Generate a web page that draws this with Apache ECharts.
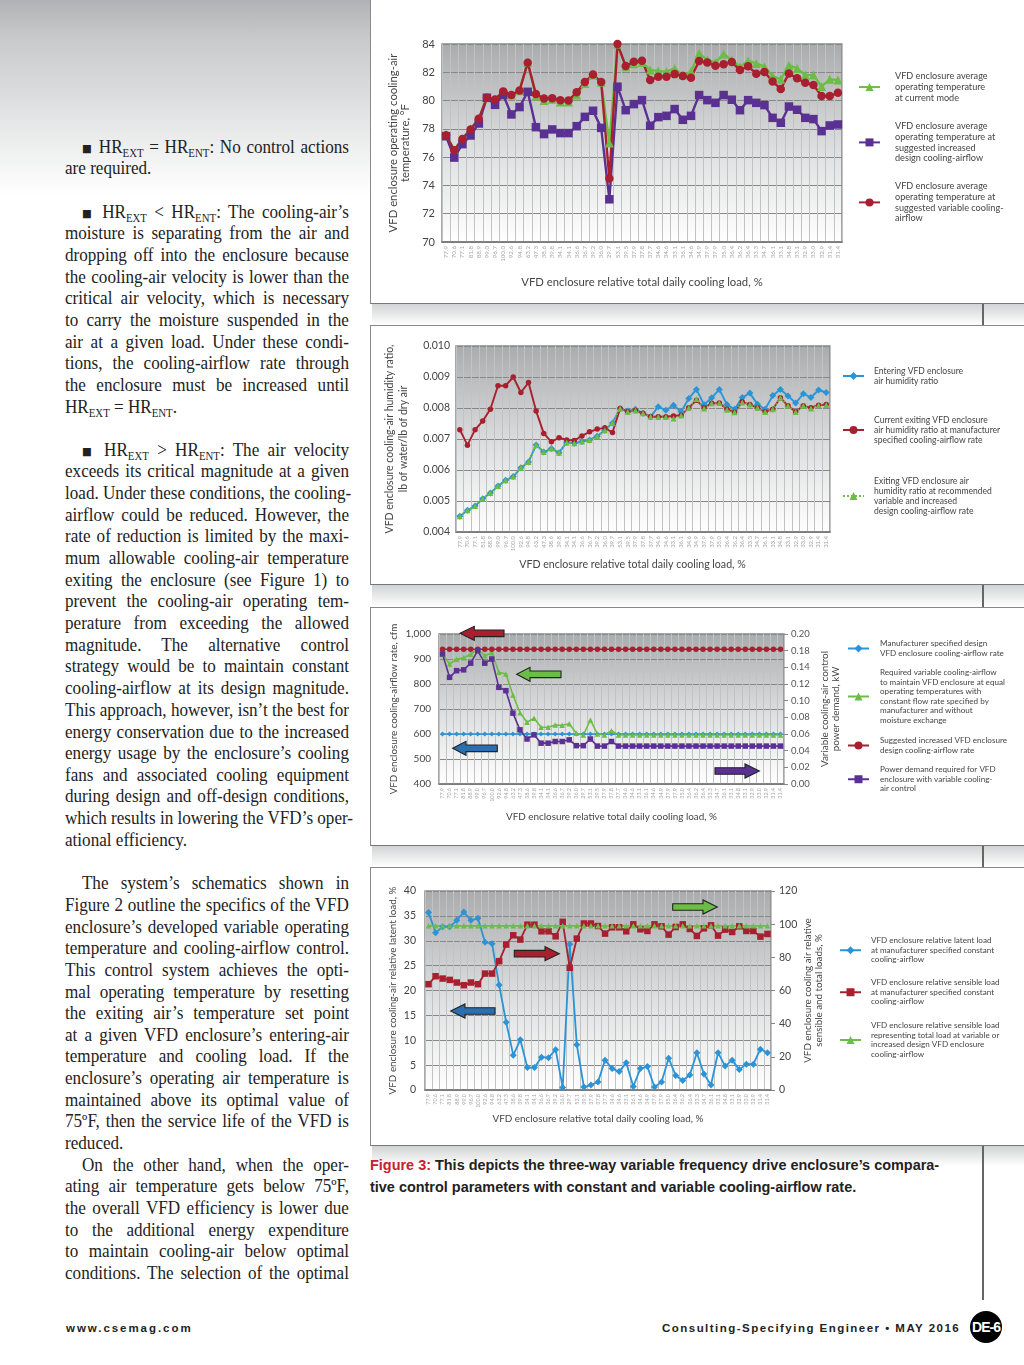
<!DOCTYPE html>
<html><head><meta charset="utf-8">
<script src="https://cdn.jsdelivr.net/npm/echarts@6/dist/echarts.min.js"></script>
<style>
html,body{margin:0;padding:0;background:#fff;}
#page{position:relative;width:1024px;height:1365px;overflow:hidden;background:#fff;}
#shade{position:absolute;left:0;top:0;width:370px;height:195px;background:linear-gradient(#b0b2b5,#c8cacb 20%,#ffffff 100%);}
.panel{position:absolute;left:370px;width:654px;background:#fff;border-left:1.5px solid #8a8a8a;border-bottom:1.5px solid #777;box-sizing:border-box;}
.panel.t{border-top:1.5px solid #888;}
.band{position:absolute;left:372px;width:652px;background:linear-gradient(#d2d3d4,#ffffff);}
.stub{position:absolute;left:982px;width:1.5px;background:#666;}
.ln{position:absolute;left:65px;width:302.1px;font-family:"Liberation Serif",serif;font-size:18.2px;line-height:22px;height:22px;color:#222;white-space:nowrap;transform:scaleX(.94);transform-origin:0 50%;}
.j{text-align:justify;text-align-last:justify;}
.i{padding-left:18px;width:284.1px;}
.ln sub{font-size:11.5px;line-height:0;vertical-align:-4px;}
.ln b{font-family:"DejaVu Sans",sans-serif;font-weight:normal;font-size:11px;position:relative;top:-1px;}
.cap{position:absolute;left:370px;font-family:"Liberation Sans",sans-serif;font-weight:bold;font-size:14.45px;line-height:20px;color:#222;white-space:nowrap;}
.cap span{color:#c9202f;}
.foot{position:absolute;top:1320px;font-family:"Liberation Sans",sans-serif;font-weight:bold;font-size:11.5px;line-height:16px;color:#222;white-space:nowrap;}
#badge{position:absolute;left:970px;top:1311px;width:32px;height:32px;border-radius:16px;background:#000;color:#fff;font-family:"Liberation Sans",sans-serif;font-weight:bold;font-size:14px;line-height:32px;text-align:center;letter-spacing:-1px;}
#chart{position:absolute;left:0;top:0;width:1024px;height:1365px;}
</style></head>
<body><div id="page">
<div id="shade"></div>
<div class="panel" style="top:0;height:304px"></div>
<div class="band" style="top:304px;height:21px"></div>
<div class="panel t" style="top:325px;height:260px"></div>
<div class="band" style="top:585px;height:22px"></div>
<div class="panel t" style="top:607px;height:239px"></div>
<div class="band" style="top:846px;height:21px"></div>
<div class="panel t" style="top:867px;height:279px"></div>
<div class="band" style="top:1146px;height:20px;width:652px"></div>
<div class="stub" style="top:304px;height:21px"></div>
<div class="stub" style="top:585px;height:22px"></div>
<div class="stub" style="top:846px;height:21px"></div>
<div class="stub" style="top:1146px;height:154px"></div>
<div id="text"></div>
<div class="cap" style="top:1155px"><span>Figure 3:</span> This depicts the three-way variable frequency drive enclosure’s compara-</div>
<div class="cap" style="top:1177px">tive control parameters with constant and variable cooling-airflow rate.</div>
<div class="foot" style="left:66px;letter-spacing:1.95px">www.csemag.com</div>
<div class="foot" style="left:662px;letter-spacing:1.47px">Consulting-Specifying Engineer • MAY 2016</div>
<div id="badge">DE-6</div>
<div id="chart"></div>
</div>
<script>
// ---------- data ----------
const loadTicks = ['77.9','70.6','77.1','81.8','88.9','99.0','96.7','100.0','92.6','94.8','63.2','47.3','38.6','39.8','34.1','34.1','36.6','36.7','39.2','36.0','29.7','53.1','39.5','37.9','37.8','37.7','34.6','34.6','33.1','36.1','34.6','34.9','37.9','37.9','35.0','36.4','36.2','36.4','33.3','34.7','36.1','33.1','34.8','33.1','32.9','33.0','32.9','31.4','31.4'];
const loadTicks2 = ['77.9','70.6','77.1','81.8','88.9','99.0','96.7','100.0','92.6','94.8','63.2','47.3','38.6','39.8','34.1','34.1','36.6','36.7','39.2','36.0','39.7','53.1','39.5','37.9','37.8','37.7','34.6','34.6','33.1','36.1','34.6','34.9','37.9','37.9','35.0','36.4','36.2','36.4','33.3','34.7','36.1','33.1','34.8','33.1','32.9','33.0','32.9','31.4','31.4'];

// Chart 1: operating temperature, F
const tempCurrent = [77.6,76.5,77.3,78.0,78.7,80.2,80.1,80.6,80.4,80.7,82.7,80.3,80.0,80.1,79.9,79.9,80.4,81.2,81.8,81.3,77.0,84.0,82.4,82.6,82.7,82.16,82.1,82.05,82.27,81.8,82.05,83.34,82.87,82.7,83.3,82.87,82.4,82.8,82.63,82.4,81.73,81.5,82.5,82.27,81.8,81.8,81.0,81.5,81.45];
const tempIncreased = [77.48,75.97,76.92,77.53,78.38,80.2,79.7,80.39,79.02,79.54,80.62,78.12,77.63,77.96,77.7,77.7,78.19,78.85,79.28,78.07,73.02,80.98,79.32,79.75,80.03,78.22,78.83,78.92,79.4,78.64,78.92,80.39,80.03,79.84,80.39,80.06,79.32,80.03,79.84,79.68,78.78,78.43,79.58,79.35,78.78,78.69,77.84,78.24,78.31];
const tempVariable = [77.55,76.49,77.29,77.96,78.71,80.2,80.08,80.65,80.39,80.72,82.68,80.46,80.15,80.17,80.03,80.01,80.58,81.31,81.85,81.31,74.49,84.0,82.44,82.75,82.82,81.45,81.69,81.69,81.87,81.73,81.61,82.8,82.7,82.46,82.56,82.72,82.16,82.42,81.9,82.02,81.35,80.81,81.92,81.57,81.26,81.1,80.32,80.32,80.55];

// Chart 2: humidity ratio
const humidEntering = [.00451,.00470,.00484,.00507,.00526,.00548,.00567,.00579,.00607,.00626,.00681,.00658,.00669,.00656,.00689,.00686,.00692,.00697,.00709,.00728,.00752,.00798,.00790,.00796,.00783,.00772,.00804,.00793,.00809,.00788,.00831,.00860,.00811,.00833,.00860,.00811,.00796,.00834,.00848,.00812,.00796,.00840,.00860,.00839,.00816,.00846,.00834,.00858,.00850];
const humidCurrent = [.00730,.00680,.00730,.00758,.00796,.00872,.00872,.00900,.00850,.00882,.00790,.00718,.00691,.00704,.00697,.00695,.00710,.00723,.00732,.00736,.00721,.00798,.00788,.00792,.00783,.00772,.00772,.00772,.00774,.00777,.00801,.00825,.00801,.00815,.00816,.00796,.00786,.00820,.00811,.00801,.00788,.00796,.00833,.00807,.00788,.00807,.00801,.00809,.00811];
const humidRecommended = [.00451,.00470,.00484,.00507,.00526,.00548,.00567,.00579,.00607,.00626,.00681,.00658,.00669,.00656,.00689,.00686,.00692,.00697,.00709,.00728,.00752,.00798,.00788,.00792,.00783,.00772,.00771,.00771,.00766,.00776,.00801,.00829,.00798,.00815,.00816,.00794,.00786,.00818,.00811,.00801,.00787,.00796,.00833,.00807,.00787,.00807,.00798,.00809,.00810];

// Chart 3: airflow (cfm) and control power (right-axis tick units)
const airflowDesign = [600,600,600,600,600,600,600,600,600,600,600,600,600,600,600,600,600,600,600,600,600,600,600,600,600,600,600,600,600,600,600,600,600,600,600,600,600,600,600,600,600,600,600,600,600,600,600,600,600];
const airflowRequired = [920,880,899,905,919,940,913,925,847,840,756,685,647,663,627,627,636,635,641,603,596,656,600,596,613,596,596,596,596,596,596,596,596,596,596,596,596,596,596,596,596,596,596,596,596,596,596,596,596];
const airflowIncreased = [939,939,939,939,939,939,939,939,939,939,939,939,939,939,939,939,939,939,939,939,939,939,939,939,939,939,939,939,939,939,939,939,939,939,939,939,939,939,939,939,939,939,939,939,939,939,939,939,939];
const powerDemand = [.156,.128,.136,.137,.145,.160,.145,.150,.116,.112,.085,.065,.054,.059,.049,.049,.051,.051,.053,.046,.046,.054,.0455,.0455,.051,.0455,.0455,.0455,.0455,.0455,.0455,.0455,.0455,.0455,.0455,.0455,.0455,.0455,.0455,.0455,.0455,.0455,.0455,.0455,.0455,.0455,.0455,.0455,.0455];
const powerTickLabels = ['0.00','0.02','0.04','0.06','0.08','0.10','0.12','0.14','0.18','0.20'];

// Chart 4: relative loads, %
const latentLoad = [35.7,31.6,32.8,32.8,34.1,35.8,34.1,34.5,29.7,29.4,21.1,13.6,7.0,10.1,4.5,4.5,6.6,6.5,8.1,0.5,29.3,9.1,0.6,1.0,1.6,6.0,4.3,3.7,5.5,0.7,4.3,4.7,0.6,1.6,6.4,2.9,1.9,3.0,7.5,3.2,1.0,7.5,4.8,6.0,4.1,5.2,5.2,8.2,7.5];
const sensibleConstant = [63.8,68.6,67.2,66.4,64.8,63.2,64.8,63.8,70.2,70.2,77.7,87.7,93.3,90.7,99.7,99.7,95.7,95.7,92.7,101.4,73.7,91.3,100.4,100.4,98.9,94.3,98.1,98.1,95.7,99.9,96.9,95.9,99.9,98.7,93.7,98.3,99.9,97.1,92.9,97.5,99.3,93.1,96.7,95.3,98.7,95.9,95.9,92.5,94.1];
const sensibleTotal = [99,99,99,99,99,99,99,99,99,99,99,99,99,99,99,99,99,99,99,99,99,99,99,99,99,99,99,99,99,99,99,99,99,99,99,99,99,99,99,99,99,99,99,99,99,99,99,99,99];

// Body text of the page column: [centre y, markup, class]
const bodyLines = [
[147,'<b>■</b> HR<sub>EXT</sub> = HR<sub>ENT</sub>: No control actions','j i'],[168,'are required.',''],
[212,'<b>■</b> HR<sub>EXT</sub> &lt; HR<sub>ENT</sub>: The cooling-air’s','j i'],[233,'moisture is separating from the air and','j'],[255,'dropping off into the enclosure because','j'],[277,'the cooling-air velocity is lower than the','j'],[298,'critical air velocity, which is necessary','j'],[320,'to carry the moisture suspended in the','j'],[342,'air at a given load. Under these condi-','j'],[363,'tions, the cooling-airflow rate through','j'],[385,'the enclosure must be increased until','j'],[407,'HR<sub>EXT</sub> = HR<sub>ENT</sub>.',''],
[450,'<b>■</b> HR<sub>EXT</sub> &gt; HR<sub>ENT</sub>: The air velocity','j i'],[471,'exceeds its critical magnitude at a given','j'],[493,'load. Under these conditions, the cooling-','j'],[515,'airflow could be reduced. However, the','j'],[536,'rate of reduction is limited by the maxi-','j'],[558,'mum allowable cooling-air temperature','j'],[580,'exiting the enclosure (see Figure 1) to','j'],[601,'prevent the cooling-air operating tem-','j'],[623,'perature from exceeding the allowed','j'],[645,'magnitude. The alternative control','j'],[666,'strategy would be to maintain constant','j'],[688,'cooling-airflow at its design magnitude.','j'],[710,'This approach, however, isn’t the best for','j'],[732,'energy conservation due to the increased','j'],[753,'energy usage by the enclosure’s cooling','j'],[775,'fans and associated cooling equipment','j'],[796,'during design and off-design conditions,','j'],[818,'which results in lowering the VFD’s oper-','j'],[840,'ational efficiency.',''],
[883,'The system’s schematics shown in','j i'],[905,'Figure 2 outline the specifics of the VFD','j'],[927,'enclosure’s developed variable operating','j'],[948,'temperature and cooling-airflow control.','j'],[970,'This control system achieves the opti-','j'],[992,'mal operating temperature by resetting','j'],[1013,'the exiting air’s temperature set point','j'],[1035,'at a given VFD enclosure’s entering-air','j'],[1056,'temperature and cooling load. If the','j'],[1078,'enclosure’s operating air temperature is','j'],[1100,'maintained above its optimal value of','j'],[1121,'75ºF, then the service life of the VFD is','j'],[1143,'reduced.',''],
[1165,'On the other hand, when the oper-','j i'],[1186,'ating air temperature gets below 75ºF,','j'],[1208,'the overall VFD efficiency is lower due','j'],[1230,'to the additional energy expenditure','j'],[1251,'to maintain cooling-air below optimal','j'],[1273,'conditions. The selection of the optimal','j']
];
document.getElementById('text').innerHTML = bodyLines.map(l=>`<div class="ln ${l[2]}" style="top:${l[0]-11}px">${l[1]}</div>`).join('');

// ---------- helpers ----------
const FONT='Lato';
const BLUE='#2b94d6',RED='#a8202f',GREEN='#6cbd45',PURPLE='#5a3192';
const bg=new echarts.graphic.LinearGradient(0,0,0,1,[{offset:0,color:'#a9abad'},{offset:.55,color:'#dfe0e1'},{offset:1,color:'#ffffff'}]);
function gridOf(l,t,w,h){return {left:l,top:t,width:w,height:h,show:true,backgroundColor:bg,borderColor:'#8a8a8a',borderWidth:1.5};}
function xAxisOf(i,ticks,name,gap,fs,nfs,pad){return {type:'category',gridIndex:i,data:ticks,name:name,nameLocation:'middle',nameGap:gap,
  nameTextStyle:{fontFamily:FONT,fontSize:nfs,color:'#444',padding:[0,pad||0,0,0]},
  axisLine:{lineStyle:{color:'#777',width:1.5}},axisTick:{show:false},
  splitLine:{show:true,interval:0,lineStyle:{color:'#c2c2c2',width:1}},
  axisLabel:{interval:0,rotate:90,fontSize:fs,fontFamily:FONT,color:'#a6a6a6',margin:4}};}
function yAxisOf(i,nfs,lh,o){return Object.assign({type:'value',gridIndex:i,nameLocation:'middle',nameRotate:90,
  nameTextStyle:{fontFamily:FONT,fontSize:nfs,color:'#444',lineHeight:lh},
  axisLine:{show:false},axisTick:{show:false},
  splitLine:{show:true,lineStyle:{color:'#888',width:1}},
  axisLabel:{fontFamily:FONT,fontSize:11,color:'#444',margin:7}},o);}
function lineOf(name,data,xi,yi,color,sym,size,w,dash){return {type:'line',name:name,data:data,xAxisIndex:xi,yAxisIndex:yi,
  symbol:sym,symbolSize:size,showSymbol:true,showAllSymbol:true,animation:false,
  lineStyle:{color:color,width:w,type:dash||'solid'},itemStyle:{color:color}};}
function legendOf(name,left,top,fs,lh,ih,gap){return {data:[name],left:left,top:top,padding:0,orient:'vertical',selectedMode:false,
  itemWidth:21,itemHeight:ih,itemGap:0,align:'left',textStyle:{fontFamily:FONT,fontSize:fs,lineHeight:lh,color:'#444',padding:[0,0,0,gap]}};}
function arrow(tipX,y,baseX,tailX,color){const hb=3.3,hh=7;
  return {type:'polygon',z:50,shape:{points:[[tipX,y],[baseX,y-hh],[baseX,y-hb],[tailX,y-hb],[tailX,y+hb],[baseX,y+hb],[baseX,y+hh]]},
    style:{fill:color,stroke:'#222',lineWidth:1.1}};}

// ---------- legend names ----------
const L1=['VFD enclosure average\noperating temperature\nat current mode','VFD enclosure average\noperating temperature at\nsuggested increased\ndesign cooling-airflow','VFD enclosure average\noperating temperature at\nsuggested variable cooling-\nairflow'];
const L2=['Entering VFD enclosure\nair humidity ratio','Current exiting VFD enclosure\nair humidity ratio at manufacturer\nspecified cooling-airflow rate','Exiting VFD enclosure air\nhumidity ratio at recommended\nvariable and increased\ndesign cooling-airflow rate'];
const L3=['Manufacturer specified design\nVFD enclosure cooling-airflow rate','Required variable cooling-airflow\nto maintain VFD enclosure at equal\noperating temperatures with\nconstant flow rate specified by\nmanufacturer and without\nmoisture exchange','Suggested increased VFD enclosure\ndesign cooling-airflow rate','Power demand required for VFD\nenclosure with variable cooling-\nair control'];
const L4=['VFD enclosure relative latent load\nat manufacturer specified constant\ncooling-airflow','VFD enclosure relative sensible load\nat manufacturer specified constant\ncooling-airflow','VFD enclosure relative sensible load\nrepresenting total load at variable or\nincreased design VFD enclosure\ncooling-airflow'];

const XN='VFD enclosure relative total daily cooling load, %';
const option={
  animation:false,
  backgroundColor:'transparent',
  grid:[gridOf(442,44,400,198),gridOf(456,346,374,186),gridOf(439,634,345,150),gridOf(425,891,346,199)],
  xAxis:[xAxisOf(0,loadTicks,XN,35,6.2,11.3),xAxisOf(1,loadTicks2,XN,27,6,10.6,21),xAxisOf(2,loadTicks,XN,28,5.4,9.9),xAxisOf(3,loadTicks,XN,24,5.4,9.9)],
  yAxis:[
    yAxisOf(0,11.3,12,{min:70,max:84,interval:2,name:'VFD enclosure operating cooling-air\ntemperature, °F',nameGap:31}),
    yAxisOf(1,10.5,14,{min:.004,max:.010,interval:.001,name:'VFD enclosure cooling-air humidity ratio,\nlb of water/lb of dry air',nameGap:45,axisLabel:{fontFamily:FONT,fontSize:10.5,color:'#444',margin:6,formatter:v=>v.toFixed(3)}}),
    yAxisOf(2,9.8,11,{min:400,max:1000,interval:100,name:'VFD enclosure cooling-airflow rate, cfm',nameGap:40,axisLabel:{fontFamily:FONT,fontSize:10,color:'#444',margin:8,formatter:v=>v>=1000?'1,000':String(v)}}),
    yAxisOf(2,9.9,10.5,{position:'right',min:0,max:.18,interval:.02,name:'Variable cooling-air control\npower demand, kW',nameGap:36,splitLine:{show:false},axisTick:{show:true,length:4,lineStyle:{color:'#888'}},
      axisLabel:{fontFamily:FONT,fontSize:9.5,color:'#555',margin:7,formatter:v=>powerTickLabels[Math.round(v/.02)]}}),
    yAxisOf(3,9.9,11,{min:0,max:40,interval:5,name:'VFD enclosure cooling-air relative latent load, %',nameGap:27,axisLabel:{fontFamily:FONT,fontSize:10.5,color:'#444',margin:9}}),
    yAxisOf(3,9.8,10.5,{position:'right',min:0,max:120,interval:20,name:'VFD enclosure cooling air relative\nsensible and total loads, %',nameGap:32,splitLine:{show:false},axisTick:{show:true,length:4,lineStyle:{color:'#888'}},
      axisLabel:{fontFamily:FONT,fontSize:10.5,color:'#444',margin:8}})
  ],
  legend:[
    legendOf(L1[0],858,71,9.15,10.7,10,10),legendOf(L1[1],858,121,9.15,10.7,10,10),legendOf(L1[2],858,181,9.15,10.7,10,10),
    legendOf(L2[0],842,366,8.55,10,10,5),legendOf(L2[1],842,415,8.55,10,10,5),legendOf(L2[2],842,476,8.55,10,10,5),
    legendOf(L3[0],847,639,8.1,9.5,10,6),legendOf(L3[1],847,668,8.1,9.5,10,6),legendOf(L3[2],847,736,8.1,9.5,10,6),legendOf(L3[3],847,765,8.1,9.5,10,6),
    legendOf(L4[0],839,936,8.1,9.5,10,5),legendOf(L4[1],839,978,8.1,9.5,10,5),legendOf(L4[2],839,1021,8.1,9.5,10,5)
  ],
  series:[
    lineOf(L1[0],tempCurrent,0,0,GREEN,'triangle',9,2.4),
    lineOf(L1[1],tempIncreased,0,0,PURPLE,'rect',8.5,2.4),
    lineOf(L1[2],tempVariable,0,0,RED,'circle',8.5,2.4),
    lineOf(L2[0],humidEntering,1,1,BLUE,'diamond',7,1.9),
    lineOf(L2[1],humidCurrent,1,1,RED,'circle',5.5,1.9),
    lineOf(L2[2],humidRecommended,1,1,GREEN,'triangle',6,1.6,'dotted'),
    lineOf(L3[0],airflowDesign,2,2,BLUE,'diamond',5,1.5),
    lineOf(L3[1],airflowRequired,2,2,GREEN,'triangle',5.5,1.6),
    lineOf(L3[2],airflowIncreased,2,2,RED,'circle',5.5,1.5),
    lineOf(L3[3],powerDemand,2,3,PURPLE,'rect',5.5,1.6),
    lineOf(L4[0],latentLoad,3,4,BLUE,'diamond',7,1.8),
    lineOf(L4[1],sensibleConstant,3,5,RED,'rect',6.5,1.8),
    lineOf(L4[2],sensibleTotal,3,5,GREEN,'triangle',5.5,1.8)
  ],
  graphic:{elements:[
    arrow(460,633.3,474.3,504,RED),arrow(516.7,674.3,530,561,GREEN),arrow(452.7,748.3,466,497.3,'#2a6fb0'),arrow(759.3,771,745,715,PURPLE),
    arrow(717.3,907,703,672.7,GREEN),arrow(559.3,953.7,545,514.3,RED),arrow(450.7,1011,465,495,'#2a6fb0')
  ]}
};
const chart=echarts.init(document.getElementById('chart'),null,{renderer:'canvas',width:1024,height:1365});
chart.setOption(option);
</script></body></html>
